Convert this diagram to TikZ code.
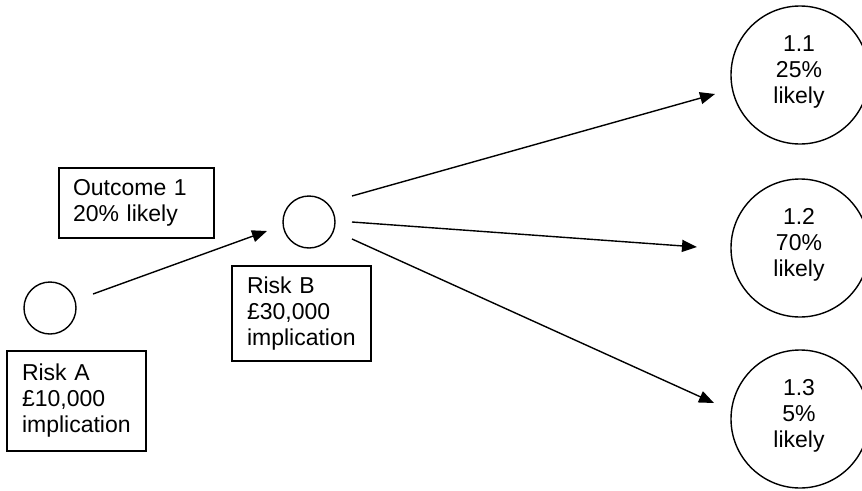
\documentclass[tikz,border=0pt]{standalone}
\usepackage{fontspec}
\setmainfont{Liberation Sans}
\usetikzlibrary{arrows.meta}
\begin{document}
\begin{tikzpicture}[x=1pt,y=-1pt,
  line width=1.4pt,
  every node/.style={font=\fontsize{23}{26}\selectfont},
  box/.style={draw, rectangle, inner xsep=0pt, inner ysep=0pt, align=left},
  riskcirc/.style={draw, circle, minimum size=52pt, inner sep=0pt},
  outcome/.style={draw, circle, minimum size=138pt, inner sep=0pt},
  ctext/.style={align=center, inner sep=0pt},
  conn/.style={-{Triangle[length=15pt,width=12pt]}}
]
\useasboundingbox (0,0) rectangle (862,490);
\clip (0,0) rectangle (862,490);
% boxes
\node[box, minimum width=155pt, minimum height=70pt, text width=127pt] (out1) at (136.5,203) {Outcome 1\\20\% likely};
\node[box, minimum width=139pt, minimum height=100pt, text width=109pt] (boxA) at (76.5,401) {Risk A\\£10,000\\implication};
\node[box, minimum width=139pt, minimum height=95pt, text width=109pt] (boxB) at (301.5,313.5) {Risk B\\£30,000\\implication};
% circles
\node[riskcirc] (A) at (50,308) {};
\node[riskcirc] (B) at (309,222) {};
\node[outcome] (C1) at (800,75) {};
\node[outcome] (C2) at (800,248) {};
\node[outcome] (C3) at (800,419) {};
\node[ctext] (t1) at (799,72) {1.1\\25\%\\likely};
\node[ctext] (t2) at (799,245) {1.2\\70\%\\likely};
\node[ctext] (t3) at (799,416) {1.3\\5\%\\likely};
% connector end points
\coordinate (a0) at (93,294);
\coordinate (b0) at (267,231);
\coordinate (b1) at (352,196);
\coordinate (b2) at (352,222);
\coordinate (b3) at (352,239);
\coordinate (c1) at (715,94);
\coordinate (c2) at (697,247);
\coordinate (c3) at (714,403);
\draw[conn] (a0) -- (b0);
\draw[conn] (b1) -- (c1);
\draw[conn] (b2) -- (c2);
\draw[conn] (b3) -- (c3);
\end{tikzpicture}
\end{document}
